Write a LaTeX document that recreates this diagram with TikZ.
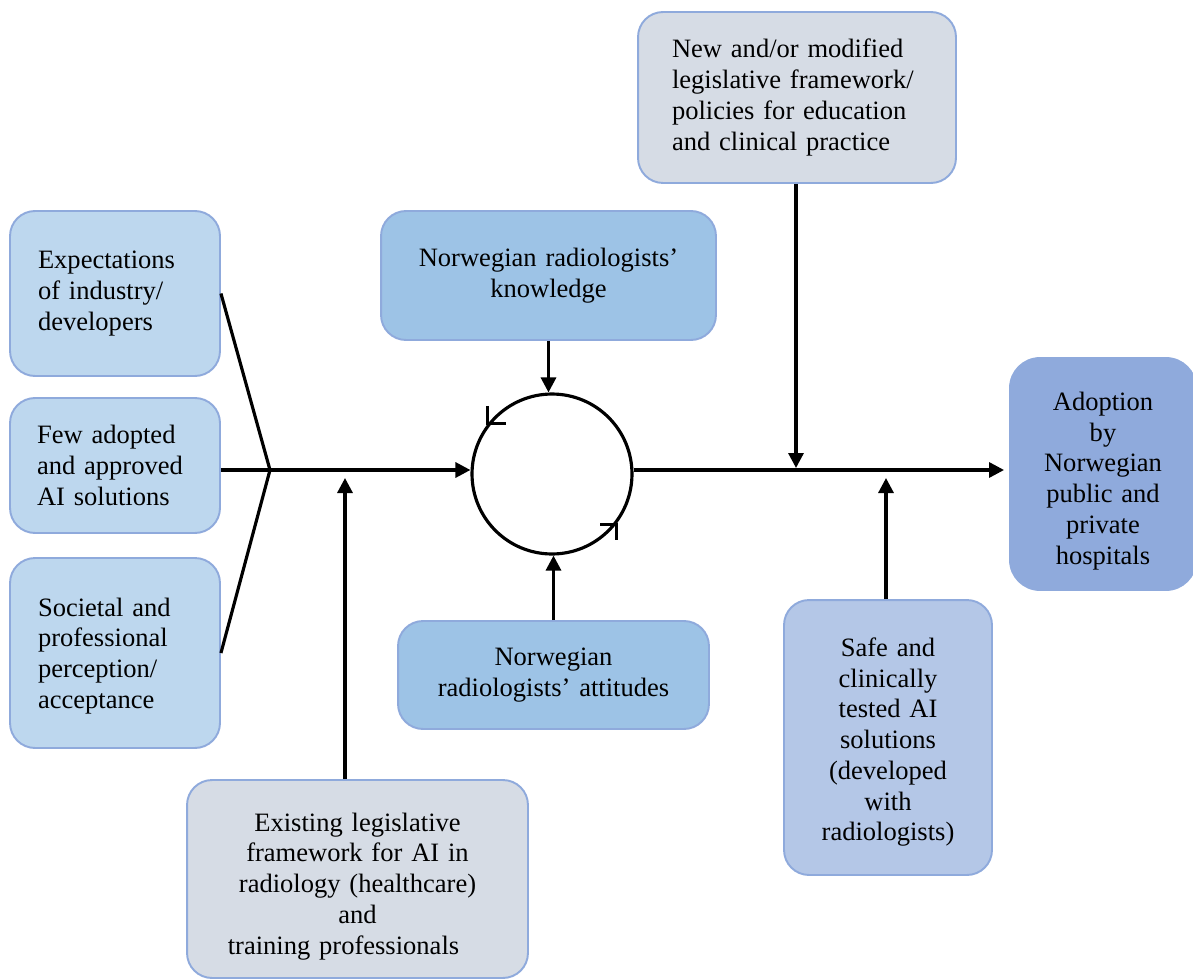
\documentclass[tikz,border=0pt]{standalone}
\usepackage{fontspec}
\setmainfont{Liberation Serif}
\usetikzlibrary{arrows.meta}
\definecolor{bordc}{HTML}{8FAADC}
\definecolor{fillA}{HTML}{BDD7EE}
\definecolor{fillD}{HTML}{9DC3E6}
\definecolor{fillF}{HTML}{D6DCE5}
\definecolor{fillH}{HTML}{B4C7E7}
\definecolor{fillI}{HTML}{8FAADC}
\tikzset{
  box/.style={draw=bordc, line width=1.1pt, rounded corners=0.5cm, inner sep=0pt,
    font=\fontsize{15.1}{17.5}\selectfont},
  arr/.style={line width=1.8pt, -{Triangle[length=0.3cm,width=0.3cm]}},
  conn/.style={line width=1.8pt},
  mk/.style={line width=1.8pt}
}
\begin{document}
\begin{tikzpicture}[x=0.02cm,y=-0.02cm]
\useasboundingbox (0,0) rectangle (1193,980);
% left boxes
\node[box, fill=fillA, minimum width=4.2cm, minimum height=3.3cm, text width=3.08cm, align=left] (A) at (115,293.5)
  {Expectations\\of industry/\\developers};
\node[box, fill=fillA, minimum width=4.2cm, minimum height=2.7cm, text width=3.12cm, align=left] (B) at (115,465.5)
  {Few adopted\\and approved\\AI solutions};
\node[box, fill=fillA, minimum width=4.2cm, minimum height=3.8cm, text width=3.08cm, align=left] (C) at (115,653)
  {\rule{0pt}{13.7pt}Societal and\\professional\\perception/\\acceptance};
% centre boxes
\node[box, fill=fillD, minimum width=6.7cm, minimum height=2.58cm, text width=6.2cm, align=center] (D) at (548.5,275.5)
  {Norwegian radiologists’\\knowledge};
\node[box, fill=fillD, minimum width=6.22cm, minimum height=2.16cm, text width=5.8cm, align=center] (E) at (553.5,675)
  {Norwegian\\radiologists’ attitudes};
\node[box, fill=fillF, minimum width=6.36cm, minimum height=3.42cm, text width=5.0cm, align=left] (F) at (797,97.5)
  {New and/or modified\\legislative framework/\\policies for education\\and clinical practice};
\node[box, fill=fillF, minimum width=6.82cm, minimum height=3.96cm, text width=6.4cm, align=center] (G) at (357.5,879)
  {\rule{0pt}{18.8pt}Existing legislative\\framework for AI in\\radiology (healthcare)\\and\\training professionals\rule{0.56cm}{0pt}};
\node[box, fill=fillH, minimum width=4.16cm, minimum height=5.5cm, text width=3.8cm, align=center] (H) at (888,737.5)
  {\rule{0pt}{16pt}Safe and\\clinically\\tested AI\\solutions\\(developed\\with\\radiologists)};
\node[box, fill=fillI, rounded corners=0.6cm, minimum width=3.72cm, minimum height=4.64cm, text width=3.4cm, align=center] (I) at (1103,474)
  {\rule{0pt}{18.2pt}Adoption\\by\\Norwegian\\public and\\private\\hospitals};
% cycle
\node[draw, circle, line width=1.8pt, minimum size=3.2cm, inner sep=0pt] (cyc) at (552,474) {};
% fork
\coordinate (fork) at (270,470);
\draw[conn] (A.east) -- (fork) -- (C.east);
\draw[conn] (B.east |- fork) -- (fork);
\draw[arr] (fork) -- (cyc.west |- fork);
\coordinate (gj) at (345,478);
\draw[arr] (G.north -| gj) -- (gj);
\draw[arr] (D.south) -- (D.south |- cyc.north);
\draw[arr] (E.north) -- (E.north |- cyc.south);
% right line
\draw[arr, shorten >=0.1cm] (cyc.east |- fork) -- (I.west |- fork);
\coordinate (fj) at (796,468);
\draw[arr] (F.south -| fj) -- (fj);
\coordinate (hj) at (886,478);
\draw[arr] (H.north -| hj) -- (hj);
% cycle marks
\coordinate (m1) at (cyc.142);
\coordinate (m2) at (cyc.-38);
\draw[mk] (m1) ++(0,-18) -- (m1) -- ++(18,0);
\draw[mk] (m2) ++(-16,0) -- (m2) -- ++(0,16);
\end{tikzpicture}
\end{document}
